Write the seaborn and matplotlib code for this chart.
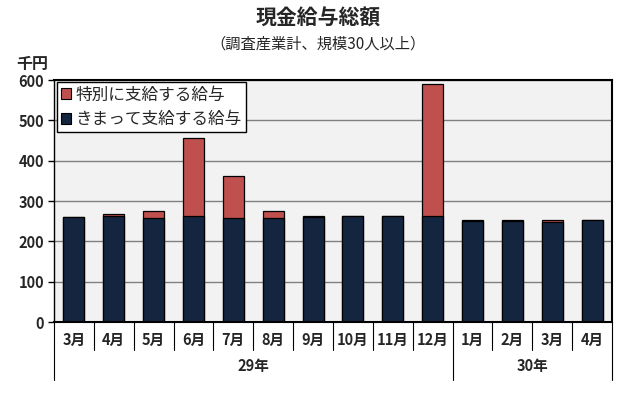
import matplotlib
matplotlib.use("Agg")
import matplotlib.pyplot as plt
import seaborn as sns
import pandas as pd
import numpy as np
from matplotlib.patches import Patch

months = ["3月", "4月", "5月", "6月", "7月", "8月", "9月", "10月", "11月", "12月", "1月", "2月", "3月", "4月"]
years = ["29年", "30年"]
year_counts = [10, 4]
regular = [260, 264, 259, 262, 259, 259, 261, 263, 263, 262, 251, 251, 249, 253]
special = [1, 5, 17, 193, 102, 17, 1, 1, 1, 327, 1, 1, 5, 1]
labels = ["特別に支給する給与", "きまって支給する給与"]
col_special = "#C0504D"
col_regular = "#14253F"

sns.set_theme(style="white")
plt.rcParams['font.family'] = ['Noto Sans CJK JP', 'DejaVu Sans']

df = pd.DataFrame({
    "idx": [f"{i}" for i in range(len(months))],
    "regular": regular,
    "total": np.array(regular) + np.array(special),
})

fig = plt.figure(figsize=(6.37, 4.11), dpi=100)
ax = fig.add_axes([54/637, 1 - 322/411, (612-54)/637, (322-80)/411])
ax.set_facecolor("#F2F2F2")

sns.barplot(data=df, x="idx", y="total", color=col_special, saturation=1,
            width=0.53, edgecolor="black", linewidth=0.9, ax=ax)
sns.barplot(data=df, x="idx", y="regular", color=col_regular, saturation=1,
            width=0.53, edgecolor="black", linewidth=0.9, ax=ax)

ax.set_ylim(0, 600)
ax.set_xlim(-0.5, len(months) - 0.5)
ax.set_yticks(range(0, 601, 100))
ax.yaxis.grid(True, color="#808080", linewidth=1)
ax.set_axisbelow(True)
ax.set_xlabel("")
ax.set_ylabel("")
ax.tick_params(axis="y", labelsize=10.5, length=4, width=1, color="black", left=True, pad=3)
for lab in ax.get_yticklabels():
    lab.set_fontweight("bold")
for s in ax.spines.values():
    s.set_color("black")
    s.set_linewidth(1.5)
ax.spines["left"].set_linewidth(1)

ax.set_xticks(range(len(months)))
ax.set_xticklabels(months, fontsize=10.5, fontweight="bold")
ax.tick_params(axis="x", length=0, pad=7)

trans = ax.get_xaxis_transform()
for i in range(len(months) + 1):
    ax.plot([i - 0.5, i - 0.5], [0, -0.115], transform=trans, color="black", lw=0.8, clip_on=False)
start = 0
bounds = [0]
for c in year_counts:
    start += c
    bounds.append(start)
for b in bounds:
    ax.plot([b - 0.5, b - 0.5], [-0.115, -0.24], transform=trans, color="black", lw=0.8, clip_on=False)
for y, a, b in zip(years, bounds[:-1], bounds[1:]):
    ax.text((a + b - 1) / 2, -0.18, y, transform=trans, ha="center", va="center",
            fontsize=10.5, fontweight="bold")

handles = [Patch(facecolor=col_special, edgecolor="black", linewidth=0.8),
           Patch(facecolor=col_regular, edgecolor="black", linewidth=0.8)]
leg = ax.legend(handles, labels, loc="upper left", bbox_to_anchor=(0.0, 1.0),
                fontsize=12, frameon=True, fancybox=False, framealpha=1,
                edgecolor="black", handlelength=0.6, handleheight=0.6,
                handletextpad=0.3, borderpad=0.25, labelspacing=0.45, borderaxespad=0.15)
leg.get_frame().set_linewidth(1)

fig.text(318/637, 1 - 18/411, "現金給与総額", ha="center", va="center", fontsize=15, fontweight="bold")
fig.text(318/637, 1 - 44/411, "（調査産業計、規模30人以上）", ha="center", va="center", fontsize=11)
fig.text(32/637, 1 - 64/411, "千円", ha="center", va="center", fontsize=11.5, fontweight="bold")

fig.savefig("out.png", dpi=100, facecolor="white")
